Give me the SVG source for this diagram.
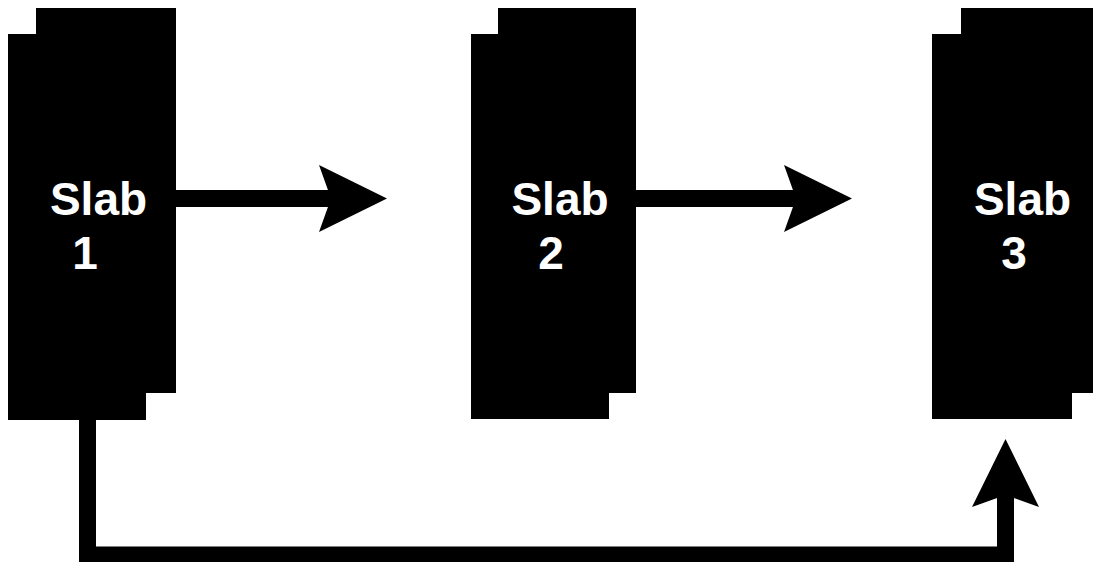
<svg xmlns="http://www.w3.org/2000/svg" width="1093" height="562" viewBox="0 0 1093 562">
  <style>
    .slab { fill: #000; }
    .label { fill: #fff; font-family: "Liberation Sans", Arial, sans-serif; font-weight: bold; font-size: 46px; text-anchor: middle; }
    .flow { fill: none; stroke: #000; stroke-width: 17; stroke-linejoin: miter; stroke-linecap: butt; marker-end: url(#head); }
  </style>
  <defs>
    <!-- notched arrowhead; the reference point is the notch where the shaft ends -->
    <marker id="head" markerUnits="userSpaceOnUse" viewBox="-70 -36 74 72" markerWidth="74" markerHeight="72" refX="0" refY="0" orient="auto" overflow="visible">
      <path d="M56,0 L-12,-33.5 L0,0 L-12,33.5 Z" fill="#000"/>
    </marker>
  </defs>
  <rect width="1093" height="562" fill="#fff"/>

  <g id="connectors">
    <path class="flow" d="M176,198.5 H331"/>
    <path class="flow" d="M636,198.5 H796"/>
    <path class="flow" d="M87.5,420 V555 H1005.5 V495"/>
  </g>

  <g id="slab1">
    <rect class="slab" x="36" y="8" width="140" height="385"/>
    <rect class="slab" x="8" y="34" width="138" height="386"/>
    <text class="label" x="98.5" y="214.5">Slab</text>
    <text class="label" x="85" y="269">1</text>
  </g>

  <g id="slab2">
    <rect class="slab" x="498" y="8" width="138" height="385"/>
    <rect class="slab" x="471" y="34" width="138" height="385"/>
    <text class="label" x="560" y="214.5">Slab</text>
    <text class="label" x="551" y="269">2</text>
  </g>

  <g id="slab3">
    <rect class="slab" x="961" y="8" width="140" height="385"/>
    <rect class="slab" x="932" y="34" width="140" height="385"/>
    <text class="label" x="1022.5" y="214.5">Slab</text>
    <text class="label" x="1014" y="269">3</text>
  </g>
</svg>
